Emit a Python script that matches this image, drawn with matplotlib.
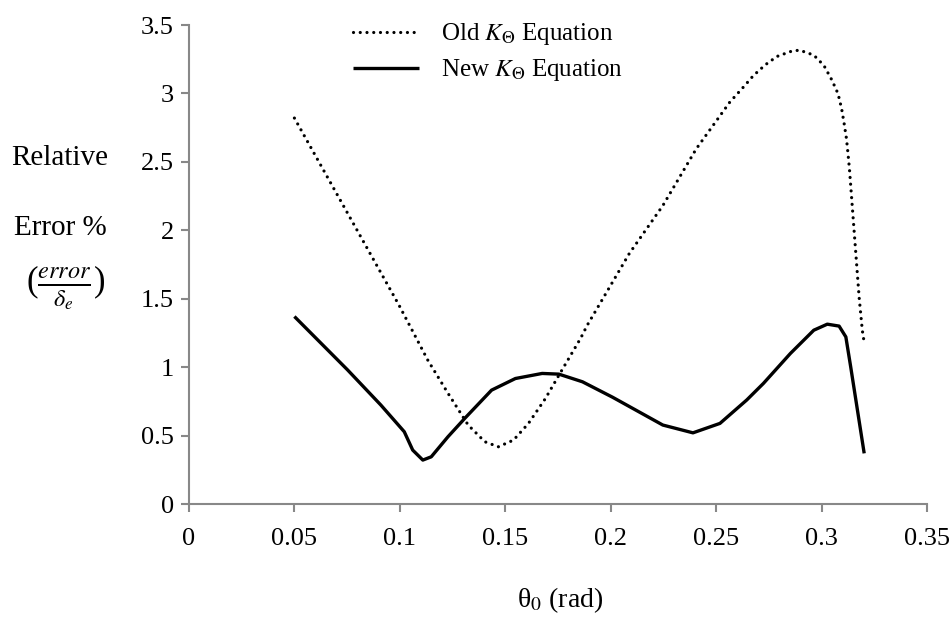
import matplotlib.pyplot as plt
from matplotlib.ticker import FuncFormatter

plt.rcParams['font.family'] = ['Liberation Serif', 'DejaVu Serif']
plt.rcParams['mathtext.fontset'] = 'stix'

# Old K_theta equation (dotted)
old_x = [0.05, 0.0997, 0.1133, 0.1228, 0.1324, 0.1403, 0.1467, 0.1539, 0.161,
         0.169, 0.1754, 0.1857, 0.1889, 0.2088, 0.2247, 0.2406, 0.2565, 0.2629,
         0.2677, 0.2733, 0.2788, 0.286, 0.2896, 0.2963, 0.3011, 0.3048, 0.3078,
         0.3095, 0.3107, 0.3118, 0.3126, 0.3132, 0.3154, 0.3178, 0.3193, 0.32]
old_y = [2.82, 1.45, 1.05, 0.81, 0.577, 0.455, 0.418, 0.467, 0.589,
         0.77, 0.94, 1.21, 1.307, 1.83, 2.18, 2.596, 2.937, 3.046,
         3.131, 3.209, 3.27, 3.31, 3.316, 3.28, 3.204, 3.10, 2.998,
         2.888, 2.779, 2.669, 2.547, 2.45, 2.0, 1.51, 1.27, 1.2]

# New K_theta equation (solid)
new_x = [0.05, 0.0752, 0.091, 0.1021, 0.1061, 0.1109, 0.1149, 0.1228, 0.1308,
         0.1435, 0.1548, 0.1675, 0.1754, 0.1866, 0.2009, 0.2247, 0.239, 0.2518,
         0.2645, 0.2724, 0.2852, 0.2963, 0.3027, 0.3083, 0.3115, 0.3138, 0.317,
         0.3202]
new_y = [1.37, 0.98, 0.723, 0.528, 0.394, 0.321, 0.345, 0.491, 0.626,
         0.832, 0.917, 0.954, 0.949, 0.893, 0.78, 0.577, 0.52, 0.589,
         0.76, 0.881, 1.10, 1.27, 1.314, 1.30, 1.221, 1.002, 0.686,
         0.37]

x_ticks = [0, 0.05, 0.1, 0.15, 0.2, 0.25, 0.3, 0.35]
y_ticks = [0, 0.5, 1, 1.5, 2, 2.5, 3, 3.5]

fig = plt.figure(figsize=(9.51, 6.22), dpi=100)
ax = fig.add_axes([0.1987, 0.1897, 0.7761, 0.7701])

ax.plot(old_x, old_y, color='black', lw=2.3, linestyle=(0, (0.01, 2.1)),
        dash_capstyle='round', label=r'Old $K_{\Theta}$ Equation')
ax.plot(new_x, new_y, color='black', lw=2.4, solid_capstyle='butt',
        solid_joinstyle='round', label=r'New $K_{\Theta}$ Equation')

ax.set_xlim(0, 0.35)
ax.set_ylim(0, 3.5)
ax.set_xticks(x_ticks)
ax.set_yticks(y_ticks)
fmt = FuncFormatter(lambda v, p: '%g' % round(v, 3))
ax.xaxis.set_major_formatter(fmt)
ax.yaxis.set_major_formatter(fmt)

gray = '#888888'
for s in ['top', 'right']:
    ax.spines[s].set_visible(False)
for s in ['left', 'bottom']:
    ax.spines[s].set_color(gray)
    ax.spines[s].set_linewidth(1.5)
ax.tick_params(axis='both', colors=gray, labelcolor='black', labelsize=19,
               length=6, width=1.5, direction='out')
ax.tick_params(axis='x', pad=11)
ax.tick_params(axis='y', pad=5)

ax.legend(loc='upper left', bbox_to_anchor=(330 / 951, 1 + 1 / 622),
          bbox_transform=fig.transFigure, frameon=False, fontsize=18,
          handlelength=2.64, handletextpad=0.9, labelspacing=0.4)

fig.text(60 / 951, 1 - 158 / 622, 'Relative', ha='center', va='center', fontsize=21)
fig.text(60 / 951, 1 - 228 / 622, 'Error %', ha='center', va='center', fontsize=21)
fig.text(66 / 951, 1 - 288 / 622, r'($\frac{error}{\delta_e}$)', ha='center',
         va='center', fontsize=25)
fig.text(560 / 951, 1 - 600 / 622, r'θ$_0$ (rad)', ha='center', va='center',
         fontsize=20)

fig.savefig('out.png', dpi=100)
